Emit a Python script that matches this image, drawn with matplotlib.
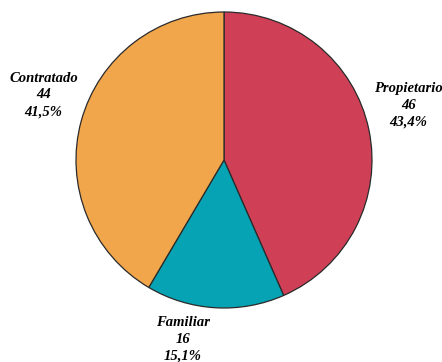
import matplotlib.pyplot as plt

categorias = ["Propietario", "Familiar", "Contratado"]
valores = [46, 16, 44]
porcentajes = ["43,4%", "15,1%", "41,5%"]
colores = ["#CF4057", "#06A3B4", "#F2A64B"]

# posiciones de las etiquetas (unidades del radio)
pos_etiquetas = [(1.245, 0.37), (-0.28, -1.21), (-1.22, 0.44)]

fig = plt.figure(figsize=(4.42, 3.62), dpi=100)
ax = fig.add_axes([76 / 442, 54 / 362, 296 / 442, 296 / 362])

ax.pie(
    valores,
    colors=colores,
    startangle=90,
    counterclock=False,
    radius=1,
    wedgeprops=dict(edgecolor="#2a2a2a", linewidth=0.9),
)
ax.set_xlim(-1, 1)
ax.set_ylim(-1, 1)
ax.set_aspect("equal")
ax.axis("off")

for cat, val, pct, (x, y) in zip(categorias, valores, porcentajes, pos_etiquetas):
    ax.text(
        x, y, f"{cat}\n{val}\n{pct}",
        ha="center", va="center",
        family="Liberation Serif", style="italic", weight="bold",
        fontsize=10.5, linespacing=1.38, clip_on=False,
    )

fig.savefig("out.png", dpi=100)
